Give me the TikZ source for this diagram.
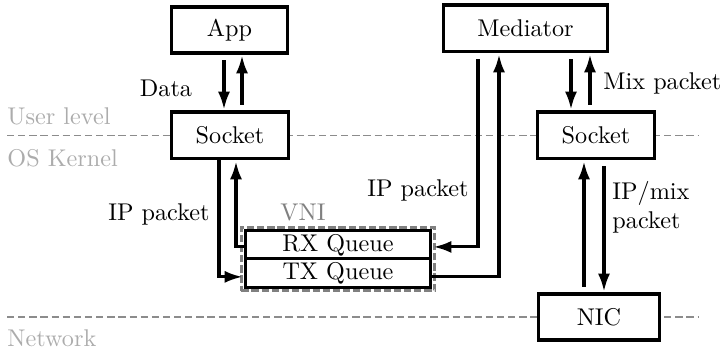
\documentclass[tikz,border=0pt]{standalone}
\usetikzlibrary{arrows.meta,fit,calc}
\definecolor{layertext}{RGB}{172,172,172}
\definecolor{layerline}{RGB}{140,140,140}
\definecolor{vnigray}{RGB}{128,128,128}
\tikzset{
  box/.style={draw=black, line width=1.25pt, fill=white, inner sep=0pt,
              font=\normalsize},
  qbox/.style={draw=black, line width=1.25pt, fill=white, inner sep=0pt,
               minimum width=76.8pt, minimum height=11.6pt},
  arr/.style={line width=1.25pt, -{Latex[length=7.4pt,width=5pt]},
              shorten >=0.4pt, shorten <=2.4pt},
  layer/.style={draw=layerline, line width=0.8pt, dash pattern=on 3pt off 1.6pt},
  layerlabel/.style={text=layertext, anchor=west, inner sep=0pt},
  lbl/.style={inner sep=0pt}
}
\begin{document}
\begin{tikzpicture}[x=0.413pt, y=-0.413pt]
  \useasboundingbox (0,0) rectangle (722,353);

  % layer separators
  \draw[layer] (7,135.5) -- (699,135.5);
  \draw[layer] (7,317) -- (699,317);
  \node[layerlabel] (ul) at (7,116) {User level};
  \node[layerlabel] (ok) at (7,158) {OS Kernel};
  \node[layerlabel] (nw) at (7,338) {Network};

  % components
  \node[box, minimum width=48.3pt, minimum height=19pt] (app) at (229.5,30) {App};
  \node[box, minimum width=48.7pt, minimum height=19.4pt] (sock1) at (230,135.5) {Socket};
  \node[box, minimum width=68.1pt, minimum height=19.4pt] (med) at (525.5,28.5) {Mediator};
  \node[box, minimum width=48.7pt, minimum height=19.4pt] (sock2) at (596,135.5) {Socket};
  \node[box, minimum width=49.6pt, minimum height=19pt] (nic) at (599,317) {NIC};

  % virtual network interface with its two queues
  \node[qbox] (rx) at (338,245) {RX Queue};
  \node[qbox] (tx) at (338,273) {TX Queue};
  \node[draw=vnigray, line width=1.3pt, dash pattern=on 3pt off 1.2pt,
        inner sep=0.9pt, fit=(rx)(tx)] (vni) {};
  \node[lbl, text=vnigray] (vnilbl) at (303,213) {VNI};

  % application <-> socket
  \draw[arr] (224,0 |- app.south) -- (224,0 |- sock1.north);
  \draw[arr] (242,0 |- sock1.north) -- (242,0 |- app.south);
  \node[lbl] (data) at (166,88) {Data};

  % mediator <-> socket
  \draw[arr] (571,0 |- med.south) -- (571,0 |- sock2.north);
  \draw[arr] (590,0 |- sock2.north) -- (590,0 |- med.south);
  \node[lbl, anchor=west] (mix) at (603,83) {Mix packet};

  % socket <-> VNI queues
  \draw[arr, shorten <=0pt] (219,0 |- sock1.south) |- ([yshift=-1.6pt]tx.west);
  \draw[arr, shorten <=0pt] ([yshift=-0.8pt]rx.west) -| (236,0 |- sock1.south);
  \node[lbl, anchor=east] (ipl) at (210,214) {IP packet};

  % mediator <-> VNI queues
  \draw[arr] (478,0 |- med.south) |- ([yshift=-0.8pt]rx.east);
  \draw[arr, shorten <=0pt] ([yshift=-1.6pt]tx.east) -| (499,0 |- med.south);
  \node[lbl] (ipr) at (418,190) {IP packet};

  % socket <-> NIC
  \draw[arr] (584,0 |- nic.north) -- (584,0 |- sock2.south);
  \draw[arr] (604,0 |- sock2.south) -- (604,0 |- nic.north);
  \node[lbl, anchor=west, align=left] (ipmix) at (612,207) {IP/mix\\packet};
\end{tikzpicture}
\end{document}
